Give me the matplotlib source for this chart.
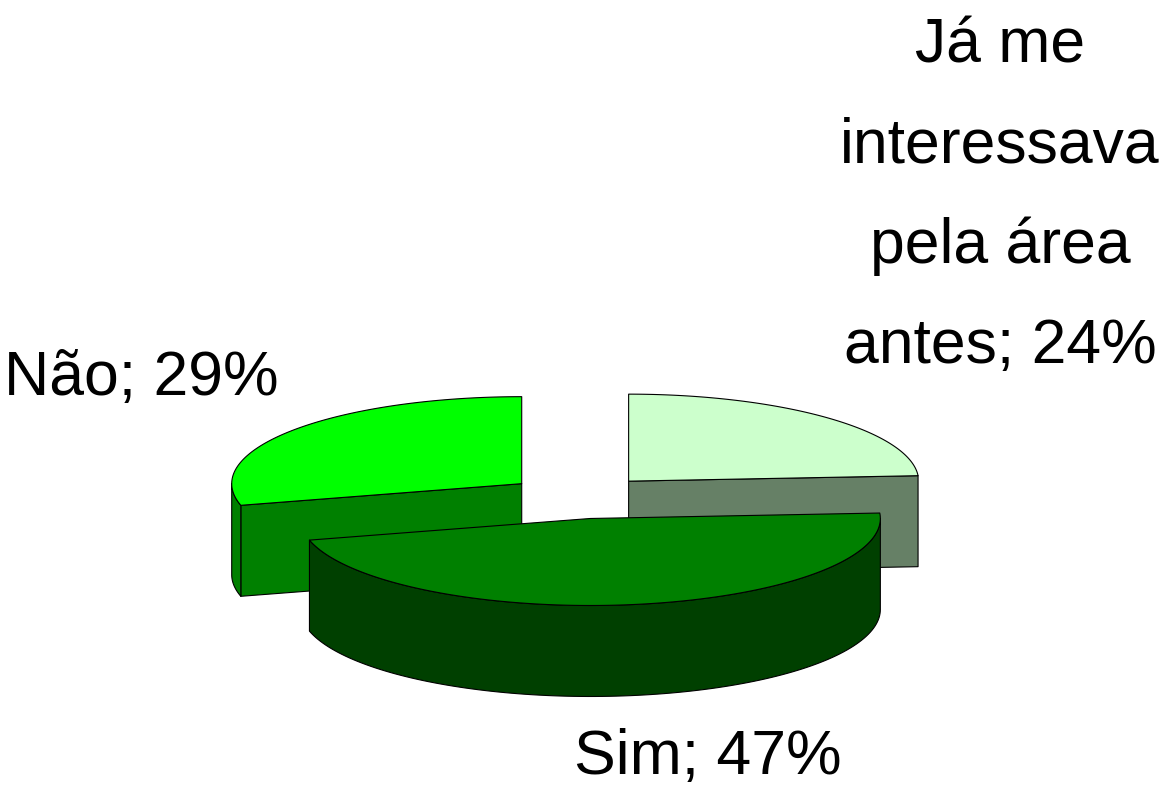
import matplotlib
matplotlib.use("Agg")
import matplotlib.pyplot as plt
from matplotlib.patches import Polygon
import numpy as np

categories = ["Já me\ninteressava\npela área\nantes", "Sim", "Não"]
values = [24, 47, 29]
top_colors = ["#ccffcc", "#008000", "#00ff00"]
side_colors = ["#668066", "#004000", "#008000"]

# pie layout in pixel coords (y grows downwards)
cx, cy = 579, 497
rx, ry = 290, 87
depth = 91
explode = 0.25

# label anchors: centre x, baseline of last line
label_pos = [(1000, 363), (708, 774), (141, 395)]

fig = plt.figure(figsize=(11.69, 7.87), dpi=100)
ax = fig.add_axes([0, 0, 1, 1])
ax.set_xlim(0, 1169)
ax.set_ylim(787, 0)
ax.axis("off")


def rim(t, ox, oy, dz=0):
    return np.column_stack([ox + rx * np.cos(t), oy - ry * np.sin(t) + dz])


fracs = np.array(values) / np.sum(values)
ends = np.pi / 2 - 2 * np.pi * np.cumsum(fracs)
starts = ends + 2 * np.pi * fracs

slices = []
for i in range(len(values)):
    a1, a2 = ends[i], starts[i]
    mid = (a1 + a2) / 2
    ox = cx + explode * rx * np.cos(mid)
    oy = cy - explode * ry * np.sin(mid)
    slices.append((np.sin(mid), i, a1, a2, ox, oy))

# back slices first
slices.sort(key=lambda s: -s[0])

z = 1
for _, i, a1, a2, ox, oy in slices:
    edge = dict(edgecolor="black", linewidth=0.8, joinstyle="round")
    # cut faces that face the viewer
    for ang, sign in [(a1, 1), (a2, -1)]:
        if sign * np.cos(ang) > 1e-6:
            p = rim(np.array([ang]), ox, oy)[0]
            face = [(ox, oy), tuple(p), (p[0], p[1] + depth), (ox, oy + depth)]
            ax.add_patch(Polygon(face, closed=True, facecolor=side_colors[i], zorder=z, **edge))
            z += 1
    # outer wall, front half only
    for k in (-1, 0, 1):
        lo = max(a1, np.pi + 2 * np.pi * k)
        hi = min(a2, 2 * np.pi + 2 * np.pi * k)
        if hi > lo:
            t = np.linspace(lo, hi, 120)
            wall = np.vstack([rim(t, ox, oy), rim(t[::-1], ox, oy, depth)])
            ax.add_patch(Polygon(wall, closed=True, facecolor=side_colors[i], zorder=z, **edge))
            z += 1
    t = np.linspace(a1, a2, 200)
    top = np.vstack([[ox, oy], rim(t, ox, oy)])
    ax.add_patch(Polygon(top, closed=True, facecolor=top_colors[i], zorder=z, **edge))
    z += 1

for i in range(len(values)):
    x, y = label_pos[i]
    ax.text(x, y, f"{categories[i]}; {values[i]}%", ha="center", va="baseline",
            fontsize=45, linespacing=1.89, color="black", family="Liberation Sans")

fig.savefig("out.png", dpi=100)
